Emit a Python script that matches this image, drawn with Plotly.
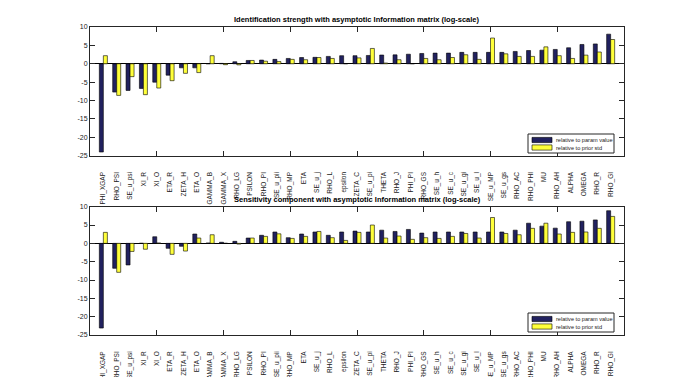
import plotly.graph_objects as go

params = ["PHI_XGAP", "RHO_PSI", "SE_u_psi", "XI_R", "XI_O", "ETA_R", "ZETA_H", "ETA_O",
          "GAMMA_B", "GAMMA_X", "RHO_LG", "PSILON", "RHO_PI", "SE_u_pii", "RHO_MP", "ETA",
          "SE_u_j", "RHO_L", "epsilon", "ZETA_C", "SE_u_pi", "THETA", "RHO_J", "PHI_PI",
          "RHO_GS", "SE_u_h", "SE_u_c", "SE_u_gi", "SE_u_l", "SE_u_MP", "SE_u_gs", "RHO_AC",
          "RHO_PHI", "MU", "RHO_AH", "ALPHA", "OMEGA", "RHO_R", "RHO_GI"]

ident_param = [-24.0, -7.7, -7.25, -6.7, -5.0, -3.1, -1.1, -1.1, 0.02, 0.1, 0.55, 0.9, 1.0,
               1.2, 1.45, 1.7, 1.75, 2.0, 2.2, 2.2, 2.26, 2.38, 2.42, 2.6, 2.8, 2.9, 2.9, 3.1,
               3.1, 3.1, 3.1, 3.35, 3.6, 3.7, 3.9, 4.35, 5.25, 5.4, 8.05]
ident_prior = [2.2, -8.6, -3.5, -8.4, -6.6, -4.6, -2.6, -2.4, 2.2, -0.25, -0.3, 0.9, 0.7,
               0.6, 1.2, 1.1, 1.7, 1.45, 0.02, 1.6, 4.17, 0.2, 1.1, 0.02, 1.45, 1.1, 1.7, 2.45,
               1.2, 7.0, 2.7, 2.0, 2.0, 4.6, 2.2, 1.45, 2.35, 3.2, 6.6]

sens_param = [-23.1, -6.8, -5.9, 0.02, 1.8, -1.35, -0.8, 2.55, 0.1, 0.3, 0.55, 1.45, 2.2,
              3.1, 1.55, 2.55, 3.1, 2.2, 3.1, 3.35, 3.1, 3.6, 3.25, 3.8, 2.8, 3.1, 3.1, 3.1,
              3.1, 3.1, 3.1, 3.6, 5.5, 4.7, 4.15, 5.9, 6.05, 6.4, 8.9]
sens_prior = [3.0, -7.9, -2.2, -1.6, 0.1, -3.0, -2.1, 1.45, 2.35, 0.02, -0.2, 1.45, 1.9,
              2.6, 1.35, 1.9, 3.25, 1.55, 0.8, 3.0, 5.0, 1.45, 2.0, 1.1, 1.55, 1.35, 1.9, 2.7,
              1.45, 7.05, 2.7, 2.35, 4.1, 5.5, 2.55, 3.0, 3.1, 4.1, 7.35]

y_tick_vals = [10, 5, 0, -5, -10, -15, -20, -25]
y_tick_text = ["10", "5", "0", "-5", "-10", "-15", "-20", "-25"]
x_tick_vals = [5, 10, 15, 20, 25, 30, 35]

titles = ["Identification strength with asymptotic Information matrix (log-scale)",
          "Sensitivity component with asymptotic Information matrix (log-scale)"]
series_names = ["relative to param value", "relative to prior std"]

NAVY = "#21215f"
YELLOW = "#ffff3a"
EDGE = "#262626"
FONT = "Liberation Sans, Arial, sans-serif"

W, H = 690, 377
ML, MR, MT, MB = 90, 66, 27, 42
PW, PH = W - ML - MR, H - MT - MB


def px_x(px):
    return (px - ML) / PW


def px_y(py):
    return (H - MB - py) / PH


pos = list(range(1, len(params) + 1))

fig = go.Figure()
panels = [(ident_param, ident_prior, "x", "y", "x3"),
          (sens_param, sens_prior, "x2", "y2", "x4")]
for pvals, svals, xa, ya, la in panels:
    fig.add_trace(go.Bar(x=pos, y=pvals, name=series_names[0], xaxis=xa, yaxis=ya,
                         showlegend=False,
                         marker=dict(color=NAVY, line=dict(color="#000000", width=0.6))))
    fig.add_trace(go.Bar(x=pos, y=svals, name=series_names[1], xaxis=xa, yaxis=ya,
                         showlegend=False,
                         marker=dict(color=YELLOW, line=dict(color="#000000", width=0.6))))
    # invisible carrier so that the category-label axis is drawn
    fig.add_trace(go.Scatter(x=pos, y=[0] * len(pos), xaxis=la, yaxis=ya, mode="markers",
                             marker=dict(opacity=0, size=1), hoverinfo="skip",
                             showlegend=False))

top_dom = [px_y(155.7), 1.0]
bot_dom = [0.0, px_y(206.7)]


def tick_axis(anchor):
    return dict(domain=[0, 1], anchor=anchor, range=[0, 40], tickvals=x_tick_vals,
                showticklabels=False, ticks="inside", ticklen=5, tickcolor=EDGE,
                mirror="ticks", showline=True, linecolor=EDGE, linewidth=1,
                showgrid=False, zeroline=False)


def label_axis(overlay, anchor):
    return dict(overlaying=overlay, anchor=anchor, range=[0, 40], tickvals=pos,
                ticktext=params, tickangle=-90, ticks="", showline=False, showgrid=False,
                zeroline=False, ticklabelstandoff=14,
                tickfont=dict(family=FONT, size=6.5, color="#1a1a1a"))


def y_axis(anchor, dom):
    return dict(domain=dom, anchor=anchor, range=[-25, 10], tickvals=y_tick_vals,
                ticktext=y_tick_text, ticks="inside", ticklen=5, tickcolor=EDGE,
                mirror="ticks", showline=True, linecolor=EDGE, linewidth=1,
                showgrid=False, zeroline=True, zerolinecolor="#000000", zerolinewidth=1,
                tickfont=dict(family=FONT, size=7, color="#1a1a1a"))


shapes = []
annotations = []
# legend boxes (top panel, bottom panel)
for box_top in (134.0, 313.0):
    shapes.append(dict(type="rect", xref="paper", yref="paper",
                       x0=px_x(528), x1=px_x(614), y0=px_y(box_top + 19), y1=px_y(box_top),
                       line=dict(color=EDGE, width=1), fillcolor="white", layer="above"))
    for i, (name, col) in enumerate(zip(series_names, [NAVY, YELLOW])):
        cy = box_top + 6.0 + i * 7.5
        shapes.append(dict(type="rect", xref="paper", yref="paper",
                           x0=px_x(532), x1=px_x(552), y0=px_y(cy + 2.6), y1=px_y(cy - 2.6),
                           line=dict(color="#000000", width=0.6), fillcolor=col,
                           layer="above"))
        annotations.append(dict(text=name, x=px_x(554), y=px_y(cy), xref="paper",
                                yref="paper", xanchor="left", yanchor="middle",
                                showarrow=False,
                                font=dict(family=FONT, size=5.6, color="#1a1a1a")))

annotations.append(dict(text="<b>%s</b>" % titles[0], x=0.5, y=1.0, xref="paper",
                        yref="paper", xanchor="center", yanchor="bottom", yshift=1,
                        showarrow=False, font=dict(family=FONT, size=7.5, color="#000000")))
annotations.append(dict(text="<b>%s</b>" % titles[1], x=0.5, y=bot_dom[1], xref="paper",
                        yref="paper", xanchor="center", yanchor="bottom", yshift=1,
                        showarrow=False, font=dict(family=FONT, size=7.5, color="#000000")))

fig.update_layout(
    width=W, height=H,
    margin=dict(l=ML, r=MR, t=MT, b=MB, pad=0, autoexpand=False),
    paper_bgcolor="white", plot_bgcolor="white",
    barmode="group", bargap=0.4, bargroupgap=0,
    font=dict(family=FONT, color="#000000"),
    showlegend=False,
    xaxis=tick_axis("y"),
    xaxis2=tick_axis("y2"),
    xaxis3=label_axis("x", "y"),
    xaxis4=label_axis("x2", "y2"),
    yaxis=y_axis("x", top_dom),
    yaxis2=y_axis("x2", bot_dom),
    shapes=shapes,
    annotations=annotations,
)

fig.write_html("out.html", config={"displayModeBar": False},
               post_script="document.body.style.margin='0px';")
